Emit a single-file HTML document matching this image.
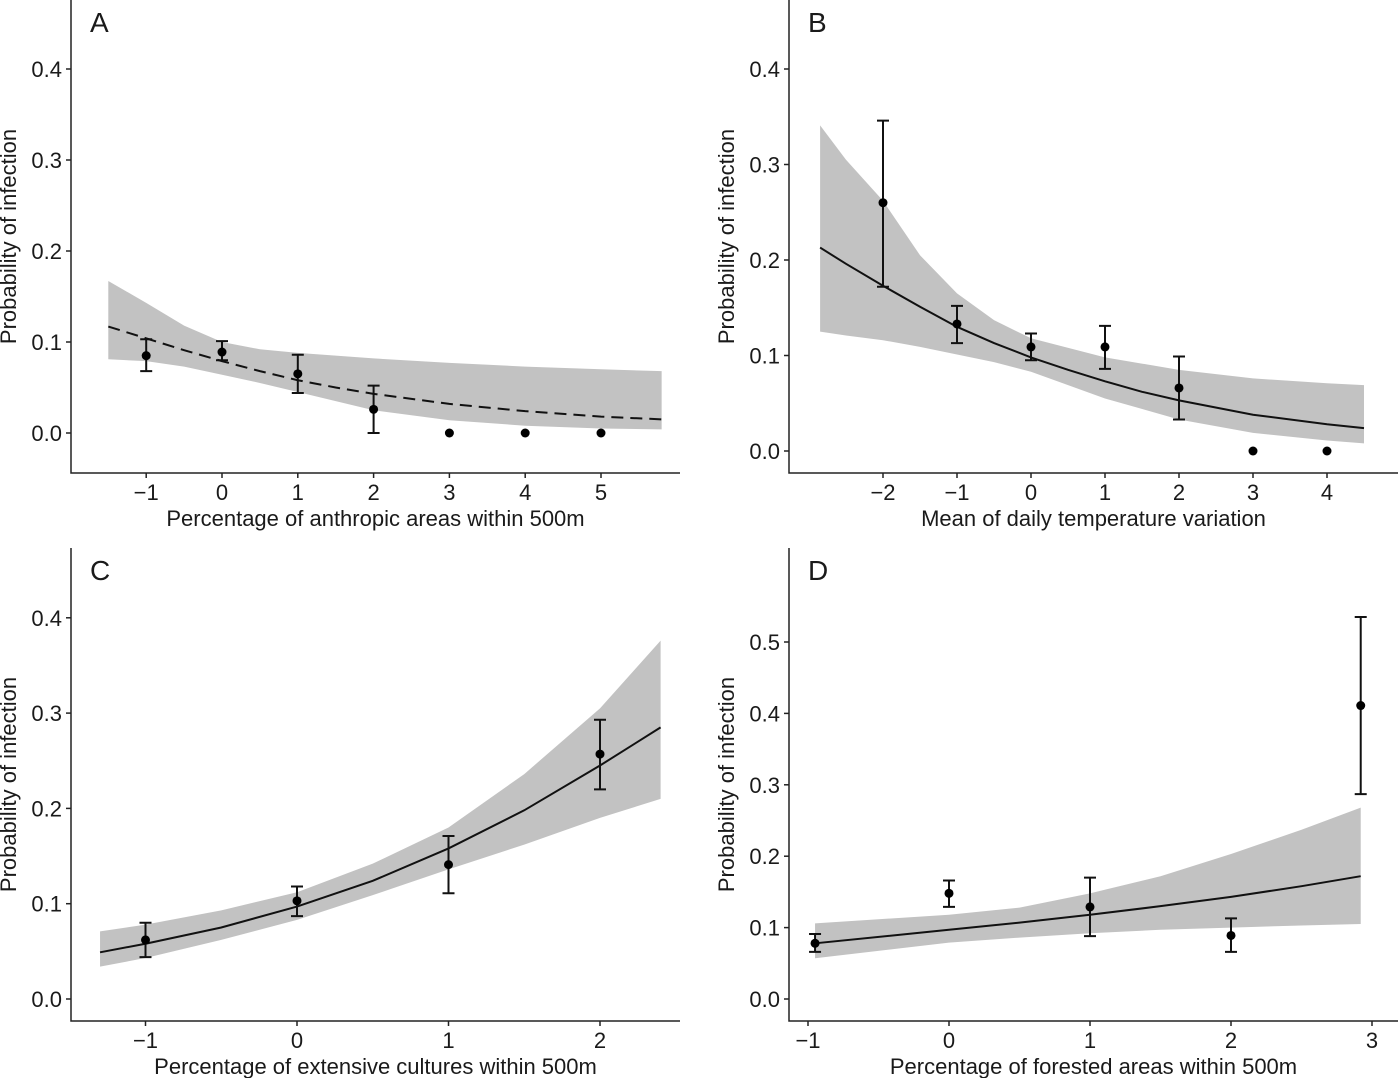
<!DOCTYPE html>
<html><head><meta charset="utf-8"><style>
html,body{margin:0;padding:0;background:#fff}
svg text{font-family:"Liberation Sans",sans-serif;fill:#1a1a1a}
</style></head><body>
<svg id="chart" width="1400" height="1078" viewBox="0 0 1400 1078" xmlns="http://www.w3.org/2000/svg"></svg>
<script>
// Panel A data
const aPtX=[-1,0,1,2,3,4,5];
const aPtY=[0.085,0.089,0.065,0.026,0,0,0];
const aLo=[0.068,0.080,0.044,0.0,null,null,null];
const aHi=[0.103,0.101,0.086,0.052,null,null,null];
const aCurveX=[-1.5,-1,-0.5,0,0.5,1,1.5,2,3,4,5,5.8];
const aCurveY=[0.117,0.104,0.091,0.079,0.068,0.058,0.050,0.043,0.032,0.024,0.018,0.015];
const aBandX=[-1.5,-1,-0.5,0,0.5,1,2,3,4,5,5.8];
const aBandHi=[0.167,0.143,0.118,0.100,0.092,0.088,0.082,0.077,0.073,0.070,0.068];
const aBandLo=[0.081,0.079,0.073,0.064,0.055,0.045,0.025,0.014,0.008,0.005,0.004];
const aXTicks=[-1,0,1,2,3,4,5];
const aYTicks=[0,0.1,0.2,0.3,0.4];
// Panel B data
const bPtX=[-2,-1,0,1,2,3,4];
const bPtY=[0.26,0.133,0.109,0.109,0.066,0,0];
const bLo=[0.172,0.113,0.095,0.086,0.033,null,null];
const bHi=[0.346,0.152,0.123,0.131,0.099,null,null];
const bCurveX=[-2.85,-2.5,-2,-1.5,-1,-0.5,0,0.5,1,1.5,2,3,4,4.5];
const bCurveY=[0.213,0.196,0.173,0.151,0.130,0.113,0.098,0.085,0.073,0.062,0.053,0.038,0.028,0.024];
const bBandX=[-2.85,-2.5,-2,-1.5,-1,-0.5,0,1,2,3,4,4.5];
const bBandHi=[0.341,0.305,0.262,0.205,0.165,0.137,0.118,0.098,0.085,0.076,0.071,0.069];
const bBandLo=[0.125,0.121,0.116,0.109,0.101,0.093,0.083,0.055,0.033,0.019,0.011,0.008];
const bXTicks=[-2,-1,0,1,2,3,4];
const bYTicks=[0,0.1,0.2,0.3,0.4];
// Panel C data
const cPtX=[-1,0,1,2];
const cPtY=[0.062,0.103,0.141,0.257];
const cLo=[0.044,0.087,0.111,0.220];
const cHi=[0.080,0.118,0.171,0.293];
const cCurveX=[-1.3,-1,-0.5,0,0.5,1,1.5,2,2.4];
const cCurveY=[0.049,0.058,0.075,0.097,0.124,0.158,0.198,0.245,0.285];
const cBandX=[-1.3,-1,-0.5,0,0.5,1,1.5,2,2.4];
const cBandHi=[0.071,0.078,0.093,0.112,0.142,0.18,0.236,0.305,0.376];
const cBandLo=[0.034,0.043,0.062,0.083,0.109,0.136,0.162,0.19,0.21];
const cXTicks=[-1,0,1,2];
const cYTicks=[0,0.1,0.2,0.3,0.4];
// Panel D data
const dPtX=[-0.95,0,1,2,2.92];
const dPtY=[0.078,0.148,0.129,0.089,0.411];
const dLo=[0.066,0.129,0.088,0.066,0.287];
const dHi=[0.091,0.166,0.17,0.113,0.535];
const dCurveX=[-0.95,0,0.5,1,1.5,2,2.5,2.92];
const dCurveY=[0.078,0.097,0.107,0.118,0.130,0.143,0.158,0.172];
const dBandX=[-0.95,0,0.5,1,1.5,2,2.5,2.92];
const dBandHi=[0.106,0.118,0.128,0.148,0.172,0.203,0.237,0.268];
const dBandLo=[0.057,0.079,0.086,0.092,0.097,0.100,0.103,0.105];
const dXTicks=[-1,0,1,2,3];
const dYTicks=[0,0.1,0.2,0.3,0.4,0.5];

const NS="http://www.w3.org/2000/svg";
const svg=document.getElementById('chart');
function mk(tag,attrs,parent){const e=document.createElementNS(NS,tag);for(const k in attrs)e.setAttribute(k,attrs[k]);(parent||svg).appendChild(e);return e;}
function fmtX(v){return v<0?'\u2212'+Math.abs(v):String(v);}

function panel(cfg){
  const g=mk('g',{});
  
  
  const sx=v=>cfg.x0+v*cfg.xs, sy=v=>cfg.y0-v*cfg.ys;
  let d='';
  cfg.bandX.forEach((x,i)=>{d+=(i?'L':'M')+sx(x)+','+sy(cfg.bandHi[i]);});
  for(let i=cfg.bandX.length-1;i>=0;i--)d+='L'+sx(cfg.bandX[i])+','+sy(cfg.bandLo[i]);
  const band=mk('path',{d:d+'Z',fill:'#c2c2c2'},g);
  
  
  let c='';
  cfg.curveX.forEach((x,i)=>{c+=(i?'L':'M')+sx(x)+','+sy(cfg.curveY[i]);});
  const line=mk('path',{d:c,fill:'none',stroke:'#111','stroke-width':2,'stroke-dasharray':cfg.dash||'none'},g);
  
  
  cfg.ptX.forEach((x,i)=>{
    if(cfg.lo[i]!=null){
      const X=sx(x),y1=sy(cfg.lo[i]),y2=sy(cfg.hi[i]);
      const eb=mk('path',{d:`M${X},${y1}L${X},${y2}M${X-6},${y1}L${X+6},${y1}M${X-6},${y2}L${X+6},${y2}`,stroke:'#111','stroke-width':2,fill:'none'},g);
      
      
    }
    const p=mk('circle',{cx:sx(x),cy:sy(cfg.ptY[i]),r:4.5,fill:'#000'},g);
    
    
  });
  const ax=mk('path',{d:`M${cfg.axL},${cfg.top}L${cfg.axL},${cfg.axB}L${cfg.axR},${cfg.axB}`,fill:'none',stroke:'#222','stroke-width':1.5},g);
  
  
  cfg.yTicks.forEach(v=>{
    mk('line',{x1:cfg.axL-5,x2:cfg.axL,y1:sy(v),y2:sy(v),stroke:'#222','stroke-width':1.5},g);
    const t=mk('text',{x:cfg.axL-9,y:sy(v)+8,'text-anchor':'end','font-size':22},g);
    t.textContent=v.toFixed(1);
    
    
  });
  cfg.xTicks.forEach(v=>{
    mk('line',{x1:sx(v),x2:sx(v),y1:cfg.axB,y2:cfg.axB+5,stroke:'#222','stroke-width':1.5},g);
    const t=mk('text',{x:sx(v),y:cfg.axB+27,'text-anchor':'middle','font-size':22},g);
    t.textContent=fmtX(v);
    
    
  });
  const xt=mk('text',{x:(cfg.axL+cfg.axR)/2,y:cfg.axB+53,'text-anchor':'middle','font-size':22},g);
  xt.textContent=cfg.xTitle;
  
  
  const ym=(cfg.top+cfg.axB)/2;
  const yx=cfg.axL-55;
  const yt=mk('text',{x:yx,y:ym,'text-anchor':'middle','font-size':22,transform:`rotate(-90 ${yx} ${ym})`},g);
  yt.textContent='Probability of infection';
  
  
  const lt=mk('text',{x:cfg.axL+19,y:cfg.top+32,'font-size':28},g);
  lt.textContent=cfg.letter;
  
  
}

panel({letter:'A',x0:222,xs:75.8,y0:433,ys:910,axL:71,axR:680,axB:473,top:0,
  ptX:aPtX,ptY:aPtY,lo:aLo,hi:aHi,curveX:aCurveX,curveY:aCurveY,bandX:aBandX,bandHi:aBandHi,bandLo:aBandLo,
  xTicks:aXTicks,yTicks:aYTicks,dash:'12,7',xTitle:'Percentage of anthropic areas within 500m'});
panel({letter:'B',x0:1031,xs:74,y0:451,ys:955,axL:789,axR:1398,axB:473,top:0,
  ptX:bPtX,ptY:bPtY,lo:bLo,hi:bHi,curveX:bCurveX,curveY:bCurveY,bandX:bBandX,bandHi:bBandHi,bandLo:bBandLo,
  xTicks:bXTicks,yTicks:bYTicks,xTitle:'Mean of daily temperature variation'});
panel({letter:'C',x0:297,xs:151.5,y0:999,ys:953,axL:71,axR:680,axB:1021,top:548,
  ptX:cPtX,ptY:cPtY,lo:cLo,hi:cHi,curveX:cCurveX,curveY:cCurveY,bandX:cBandX,bandHi:cBandHi,bandLo:cBandLo,
  xTicks:cXTicks,yTicks:cYTicks,xTitle:'Percentage of extensive cultures within 500m'});
panel({letter:'D',x0:949,xs:141,y0:999,ys:714,axL:789,axR:1398,axB:1021,top:548,
  ptX:dPtX,ptY:dPtY,lo:dLo,hi:dHi,curveX:dCurveX,curveY:dCurveY,bandX:dBandX,bandHi:dBandHi,bandLo:dBandLo,
  xTicks:dXTicks,yTicks:dYTicks,xTitle:'Percentage of forested areas within 500m'});
</script>
</body></html>
